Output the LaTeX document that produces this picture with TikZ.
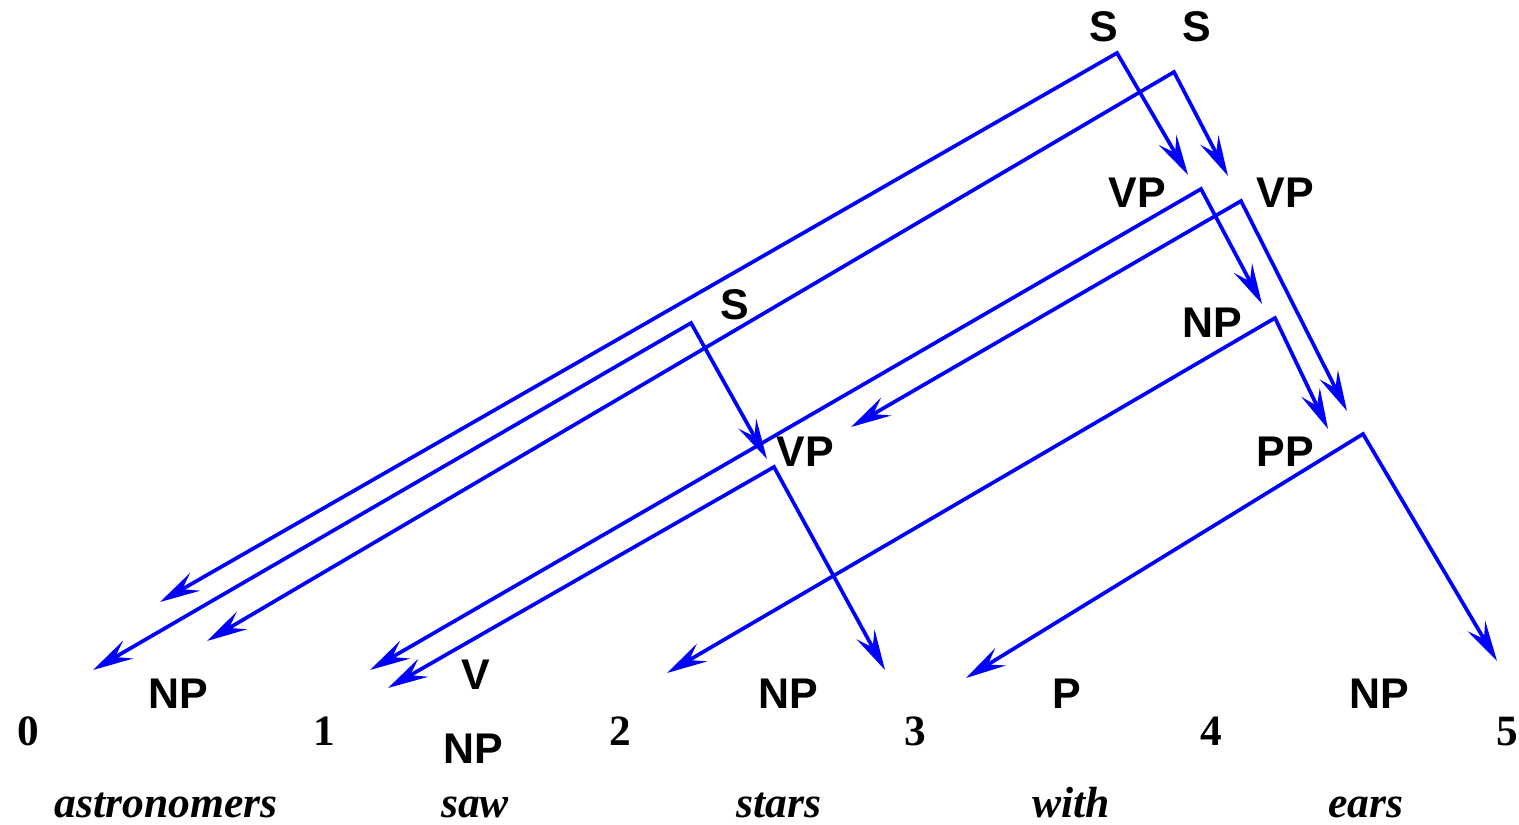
\documentclass[tikz,border=0pt]{standalone}
\usepackage{fontspec}
\setmainfont{Liberation Serif}
\newfontfamily\catfont{Liberation Sans}
\usetikzlibrary{arrows.meta}
\begin{document}
\begin{tikzpicture}[x=0.01cm, y=-0.01cm,
  cat/.style={font=\catfont\bfseries\fontsize{12.2}{14}\selectfont, anchor=base, inner sep=0pt},
  posnum/.style={font=\bfseries\fontsize{12.3}{14}\selectfont, anchor=base, inner sep=0pt},
  word/.style={font=\bfseries\itshape\fontsize{12.4}{14}\selectfont, anchor=base, inner sep=0pt},
  edge/.style={blue, line width=1.05pt,
    {Stealth[length=11.5pt,width=5.8pt,inset=4.2pt]}-{Stealth[length=11.5pt,width=5.8pt,inset=4.2pt]}}]
\useasboundingbox (0,0) rectangle (1519,825);
% chart positions and words
\foreach \i/\x in {0/28,1/324,2/620,3/915,4/1211,5/1507} \node[posnum] (n\i) at (\x,745) {\i};
\foreach \i/\x/\w in {0/166/astronomers,1/475/saw,2/779/stars,3/1071/with,4/1366/ears} \node[word] (w\i) at (\x,817) {\w};
% lexical categories
\node[cat] (np0) at (178,708) {NP};
\node[cat] (v) at (476,689) {V};
\node[cat] (np1) at (473,763) {NP};
\node[cat] (np2) at (788,708) {NP};
\node[cat] (p) at (1067,708) {P};
\node[cat] (np3) at (1379,708) {NP};
% edge labels
\node[cat] (s1) at (1104,42) {S};
\node[cat] (s2) at (1197,42) {S};
\node[cat] (vp1) at (1137,208) {VP};
\node[cat] (vp2) at (1285,208) {VP};
\node[cat] (s3) at (735,320) {S};
\node[cat] (np4) at (1212,338) {NP};
\node[cat] (vp3) at (805,467) {VP};
\node[cat] (pp) at (1285,467) {PP};
% edges: apex, left end, right end
\foreach \n/\ax/\ay/\lx/\ly/\rx/\ry in {
  s1/1117/53/160/602/1188/175,
  s2/1174/72/207/641/1228/176,
  s3/691/323/93/670/767/459,
  vp1/1201/189/370/670/1262/304,
  vp2/1241/201/851/427/1347/411,
  np4/1275/318/667/673/1328/429,
  vp3/774/467/388/688/885/670,
  pp/1363/434/966/678/1497/661} {
  \coordinate (\n-a) at (\ax,\ay);
  \coordinate (\n-l) at (\lx,\ly);
  \coordinate (\n-r) at (\rx,\ry);
  \draw[edge] (\n-l) -- (\n-a) -- (\n-r);
}
\end{tikzpicture}
\end{document}
